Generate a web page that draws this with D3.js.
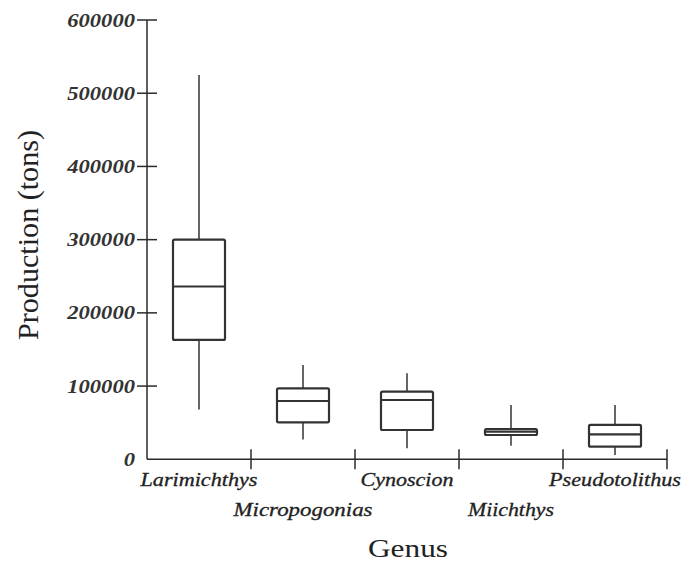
<!DOCTYPE html>
<html><head><meta charset="utf-8">
<script src="https://cdn.jsdelivr.net/npm/d3@7"></script>
<style>body{margin:0;background:#fff}svg{display:block}
.serif{font-family:"Liberation Serif","Tinos","Times New Roman",Times,"Noto Serif",serif}
</style>
</head><body>
<script>
const categories = ["Larimichthys","Micropogonias","Cynoscion","Miichthys","Pseudotolithus"];
const whiskerLow  = [68000, 27000, 15000, 18500, 6000];
const q1          = [163000, 50500, 40000, 33200, 17200];
const median      = [236000, 79600, 81000, 37700, 34100];
const q3          = [300000, 97000, 92300, 41400, 46900];
const whiskerHigh = [525000, 128800, 117500, 74200, 74200];
const yTicks = [0,100000,200000,300000,400000,500000,600000];
const labelWidths = [117,139,93,86,132];

const W=682,H=565;
const svg=d3.select("body").append("svg").attr("width",W).attr("height",H);
const x=d3.scaleBand().domain(categories).range([147,667]).padding(0);
const y=d3.scaleLinear().domain([0,600000]).range([459.3,20]);
const ink="#2a2a2a";

svg.append("line").attr("x1",x.range()[0]).attr("x2",x.range()[0]).attr("y1",y(600000)).attr("y2",y(0)).attr("stroke",ink).attr("stroke-width",1.5);
svg.append("line").attr("x1",x.range()[0]).attr("x2",x.range()[1]).attr("y1",y(0)).attr("y2",y(0)).attr("stroke",ink).attr("stroke-width",1.5);

const yt=svg.append("g");
yt.selectAll("line").data(yTicks.filter(d=>d>0)).join("line")
  .attr("x1",x.range()[0]-10).attr("x2",x.range()[0]+10)
  .attr("y1",d=>y(d)).attr("y2",d=>y(d)).attr("stroke",ink).attr("stroke-width",1.5);
yt.selectAll("text").data(yTicks).join("text")
  .attr("class","serif")
  .attr("x",x.range()[0]-12).attr("y",d=>y(d)+6.5)
  .attr("text-anchor","end")
  .style("font-style","italic").style("font-weight","bold").style("font-size","19px")
  .attr("fill","#333")
  .attr("textLength",d=>String(d).length*11.3).attr("lengthAdjust","spacingAndGlyphs")
  .text(d=>d);

svg.append("g").selectAll("line").data(categories).join("line")
  .attr("x1",d=>x(d)+x.bandwidth()).attr("x2",d=>x(d)+x.bandwidth())
  .attr("y1",y(0)-10).attr("y2",y(0)+10).attr("stroke",ink).attr("stroke-width",1.5);

svg.append("g").selectAll("text").data(categories).join("text")
  .attr("class","serif")
  .attr("x",d=>x(d)+x.bandwidth()/2)
  .attr("y",(d,i)=>i%2===0?y(0)+27:y(0)+57)
  .attr("text-anchor","middle")
  .style("font-style","italic").style("font-size","18px")
  .attr("fill","#222").attr("stroke","#222").attr("stroke-width",0.3)
  .attr("textLength",(d,i)=>labelWidths[i]).attr("lengthAdjust","spacingAndGlyphs")
  .text(d=>d);

const data=categories.map((c,i)=>({c,lo:whiskerLow[i],q1:q1[i],med:median[i],q3:q3[i],hi:whiskerHigh[i]}));
const bw=x.bandwidth()*0.5;
const g=svg.append("g").selectAll("g").data(data).join("g");
g.append("line").attr("x1",d=>x(d.c)+x.bandwidth()/2).attr("x2",d=>x(d.c)+x.bandwidth()/2)
  .attr("y1",d=>y(d.hi)).attr("y2",d=>y(d.q3)).attr("stroke","#333").attr("stroke-width",1.5);
g.append("line").attr("x1",d=>x(d.c)+x.bandwidth()/2).attr("x2",d=>x(d.c)+x.bandwidth()/2)
  .attr("y1",d=>y(d.q1)).attr("y2",d=>y(d.lo)).attr("stroke","#333").attr("stroke-width",1.5);
g.append("rect").attr("x",d=>x(d.c)+x.bandwidth()/2-bw/2).attr("width",bw)
  .attr("y",d=>y(d.q3)).attr("height",d=>y(d.q1)-y(d.q3)).attr("rx",1.5)
  .attr("fill","none").attr("stroke","#333").attr("stroke-width",2.2);
g.append("line").attr("x1",d=>x(d.c)+x.bandwidth()/2-bw/2).attr("x2",d=>x(d.c)+x.bandwidth()/2+bw/2)
  .attr("y1",d=>y(d.med)).attr("y2",d=>y(d.med)).attr("stroke","#333").attr("stroke-width",2.2);

svg.append("text").attr("class","serif").attr("transform","translate(38,235) rotate(-90)")
  .attr("text-anchor","middle").style("font-size","29px").attr("fill","#222")
  .attr("textLength",210).attr("lengthAdjust","spacingAndGlyphs")
  .text("Production (tons)");
svg.append("text").attr("class","serif").attr("x",408).attr("y",557)
  .attr("text-anchor","middle").style("font-size","26px").attr("fill","#222")
  .attr("textLength",80).attr("lengthAdjust","spacingAndGlyphs")
  .text("Genus");
</script>
</body></html>
